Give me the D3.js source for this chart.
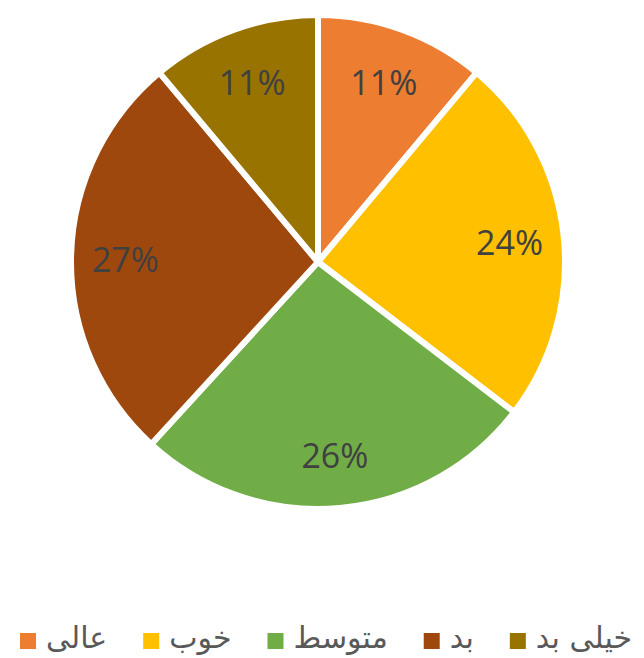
<!DOCTYPE html>
<html>
<head>
<meta charset="utf-8">
<script src="https://cdn.jsdelivr.net/npm/d3@7"></script>
<style>
  body { margin: 0; background: #fff; }
  svg { display: block; }
</style>
</head>
<body>
<div class="pie-container"></div>
<script>
// data, clockwise from 12 o'clock
const categories = ['عالی', 'خوب', 'متوسط', 'بد', 'خیلی بد'];
const shares = [11.1, 24.3, 26.4, 27.1, 11.1];
const colors = ['#ED7D31', '#FFC000', '#70AD47', '#9E480E', '#997300'];

const svg_width = 644;
const svg_height = 658;
const center = {x: 318, y: 262};
const radius = 247;

const svg = d3.select('.pie-container')
              .append('svg')
              .attr('width', svg_width)
              .attr('height', svg_height);

const pie_data = d3.pie().sort(null).value(d => d)(shares);
const arc = d3.arc().innerRadius(0).outerRadius(radius);
const label_arc = d3.arc().innerRadius(radius * 0.78).outerRadius(radius * 0.78);
const color = d3.scaleOrdinal(categories, colors);

const pie_g = svg.append('g')
                 .attr('transform', `translate(${center.x}, ${center.y})`);

pie_g.selectAll('.slice')
     .data(pie_data)
     .join('path')
     .attr('class', 'slice')
     .attr('d', arc)
     .style('fill', (d, i) => color(categories[i]))
     .style('stroke', '#fff')
     .style('stroke-width', 6)
     .style('stroke-linejoin', 'round');

pie_g.selectAll('.label')
     .data(pie_data)
     .join('text')
     .attr('class', 'label')
     .attr('transform', d => `translate(${label_arc.centroid(d)})`)
     .attr('text-anchor', 'middle')
     .attr('dy', '0.42em')
     .style('font-family', '"Open Sans", sans-serif')
     .style('font-size', '34px')
     .style('fill', '#404040')
     .text(d => Math.round(d.value) + '%');

// legend - square then text, laid out left to right
const legend = svg.append('g').attr('class', 'legend');
const sq = 16;
const legend_y = 648;
let x_pos = 0;
const items = legend.selectAll('.item')
                    .data(categories)
                    .join('g')
                    .attr('class', 'item');
items.append('rect')
     .attr('width', sq)
     .attr('height', sq)
     .attr('y', -sq + 1)
     .style('fill', d => color(d));
items.append('text')
     .attr('x', sq + 10)
     .attr('y', 0)
     .style('font-family', '"DejaVu Sans", sans-serif')
     .style('font-size', '30px')
     .style('fill', '#595959')
     .text(d => d);
items.each(function() {
    const g = d3.select(this);
    const w = g.select('text').node().getComputedTextLength();
    g.attr('transform', `translate(${x_pos}, ${legend_y})`);
    x_pos += sq + 10 + w + 36;
});
const legend_width = x_pos - 36;
legend.attr('transform', `translate(${(326 - legend_width / 2)}, 0)`);
</script>
</body>
</html>
